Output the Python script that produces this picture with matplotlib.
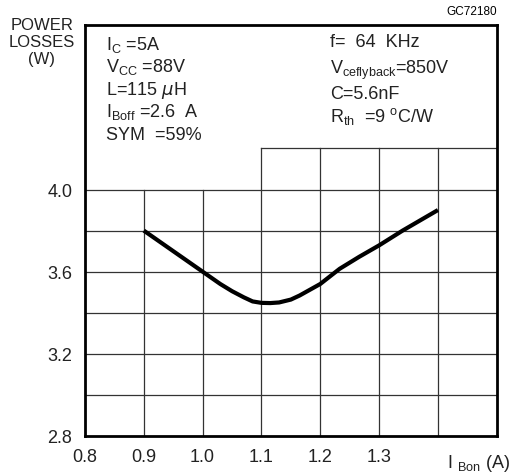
import matplotlib
matplotlib.use("Agg")
import matplotlib.pyplot as plt

plt.rcParams['font.family'] = 'Liberation Sans'
plt.rcParams['mathtext.default'] = 'regular'

# curve
i_bon = [0.90, 0.95, 1.00, 1.03, 1.05, 1.07, 1.085, 1.10, 1.115, 1.13, 1.15,
         1.165, 1.18, 1.20, 1.233, 1.266, 1.30, 1.34, 1.40]
losses = [3.80, 3.70, 3.60, 3.54, 3.505, 3.475, 3.455, 3.448, 3.447, 3.45, 3.464,
          3.484, 3.508, 3.54, 3.614, 3.672, 3.728, 3.80, 3.90]

x_ticks = [0.8, 0.9, 1.0, 1.1, 1.2, 1.3]
x_labels = ['0.8', '0.9', '1.0', '1.1', '1.2', '1.3']
y_ticks = [2.8, 3.2, 3.6, 4.0]
y_labels = ['2.8', '3.2', '3.6', '4.0']
h_grid = [3.0, 3.2, 3.4, 3.6, 3.8, 4.0]
v_grid_low = [0.9, 1.0]
v_grid_high = [1.1, 1.2, 1.3, 1.4]

fig = plt.figure(figsize=(5.18, 4.77), dpi=100)
ax = fig.add_axes([0.164, 0.084, 0.795, 0.861])
ax.set_xlim(0.8, 1.5)
ax.set_ylim(2.8, 4.8)

gc = '#333333'
for y in h_grid:
    ax.plot([0.8, 1.5], [y, y], color=gc, lw=0.9, zorder=1)
ax.plot([1.1, 1.5], [4.2, 4.2], color=gc, lw=0.9, zorder=1)
for x in v_grid_low:
    ax.plot([x, x], [2.8, 4.0], color=gc, lw=0.9, zorder=1)
for x in v_grid_high:
    ax.plot([x, x], [2.8, 4.2], color=gc, lw=0.9, zorder=1)

ax.plot(i_bon, losses, color='black', lw=3, solid_capstyle='butt',
        solid_joinstyle='round', zorder=3)

for s in ax.spines.values():
    s.set_linewidth(2)
ax.tick_params(length=0, labelsize=13, pad=9, labelcolor='#222222')
ax.set_xticks(x_ticks)
ax.set_xticklabels(x_labels)
ax.set_yticks(y_ticks)
ax.set_yticklabels(y_labels)

ax.text(1.415, 2.72, r'I $_{Bon}$ (A)', fontsize=13, ha='left', va='top',
        color='#222222')

fig.text(0.081, 0.962, 'POWER\nLOSSES\n(W)', ha='center', va='top',
         fontsize=12, linespacing=1.15, color='#222222')
fig.text(0.96, 0.975, 'GC72180', ha='right', va='center', fontsize=8.5)

left_txt = [r'I$_C$ =5A', r'V$_{CC}$ =88V', r'L=115 $\mathit{\mu}$H',
            r'I$_{Boff}$ =2.6  A', 'SYM  =59%']
left_y = [0.906, 0.859, 0.811, 0.765, 0.715]
for t, yy in zip(left_txt, left_y):
    fig.text(0.205, yy, t, fontsize=13, va='center', color='#222222')

right_txt = [r'f=  64  KHz', r'V$_{ceflyback}$=850V', 'C=5.6nF',
             r'R$_{th}$  =9 $^o$C/W']
right_y = [0.910, 0.853, 0.801, 0.755]
for t, yy in zip(right_txt, right_y):
    fig.text(0.637, yy, t, fontsize=13, va='center', color='#222222')

plt.savefig('out.png', dpi=100)
